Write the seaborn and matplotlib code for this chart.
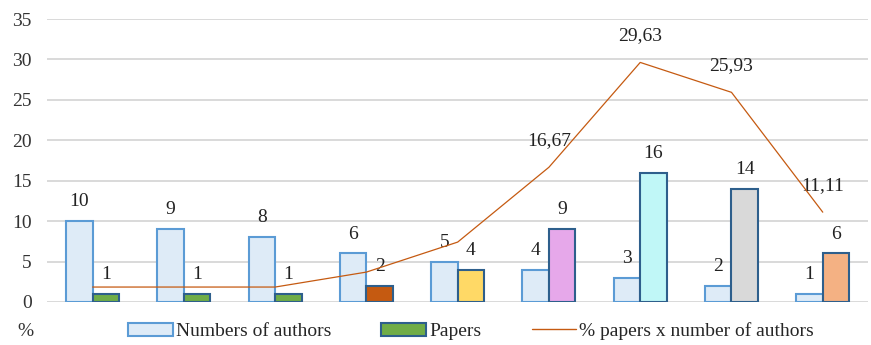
import matplotlib
matplotlib.use("Agg")
import matplotlib.pyplot as plt
import seaborn as sns
import pandas as pd
import numpy as np
from matplotlib.patches import Patch
from matplotlib.lines import Line2D

# Number of authors per paper and how many papers have that many authors
authors = [10, 9, 8, 6, 5, 4, 3, 2, 1]
papers = [1, 1, 1, 2, 4, 9, 16, 14, 6]
pct_papers = [1.85, 1.85, 1.85, 3.70, 7.41, 16.67, 29.63, 25.93, 11.11]
pct_labeled = [False, False, False, False, False, True, True, True, True]

paper_colors = ["#70AD47", "#70AD47", "#70AD47", "#C55A11", "#FFD966",
                "#E6A8EA", "#C0F7F7", "#D9D9D9", "#F4B183"]

FS = 14

sns.set_theme(style="white")
plt.rcParams["font.family"] = ["Liberation Serif", "DejaVu Serif"]

groups = [str(i) for i in range(len(authors))]
df = pd.DataFrame({
    "group": groups * 2,
    "value": authors + papers,
    "series": ["Numbers of authors"] * len(authors) + ["Papers"] * len(papers),
})

fig = plt.figure(figsize=(8.71, 3.45), dpi=100)
ax = fig.add_axes([47 / 871, 1 - 302 / 345, 1 - 47 / 871 - 0.003, (302 - 19) / 345])

sns.barplot(data=df, x="group", y="value", hue="series", order=groups,
            hue_order=["Numbers of authors", "Papers"], width=0.58,
            dodge=True, ax=ax, legend=False, zorder=3)

n = len(authors)
bars = ax.patches
for p in bars[:n]:
    p.set_facecolor("#DEEBF7")
    p.set_edgecolor("#5B9BD5")
    p.set_linewidth(1.5)
for i, p in enumerate(bars[n:2 * n]):
    p.set_facecolor(paper_colors[i])
    p.set_edgecolor("#2E5F8C")
    p.set_linewidth(1.5)

# bar value labels
for p, v in zip(bars[:2 * n], authors + papers):
    ax.annotate(str(v), (p.get_x() + p.get_width() / 2, p.get_height()),
                xytext=(0, 14), textcoords="offset points",
                ha="center", va="center", fontsize=FS, color="#222222")

xs = np.arange(n)
sns.lineplot(x=xs, y=pct_papers, ax=ax, color="#C55A11", linewidth=0.9,
             zorder=4, legend=False)
for x, v, show in zip(xs, pct_papers, pct_labeled):
    if show:
        ax.annotate(f"{v:.2f}".replace(".", ","), (x, v), xytext=(0, 19),
                    textcoords="offset points", ha="center", va="center",
                    fontsize=FS, color="#222222")

ax.set_ylim(0, 35)
ax.set_xlim(-0.5, n - 0.5)
ax.set_yticks(range(0, 36, 5))
ax.tick_params(axis="y", labelsize=FS, colors="#333333", length=0, pad=11)
ax.set_xticks([])
ax.set_xlabel("")
ax.set_ylabel("")
ax.grid(axis="y", color="#D9D9D9", linewidth=1.4, zorder=0)
ax.set_axisbelow(True)
for s in ax.spines.values():
    s.set_visible(False)

handles = [
    Patch(facecolor="#DEEBF7", edgecolor="#5B9BD5", linewidth=1.5),
    Patch(facecolor="#70AD47", edgecolor="#2E5F8C", linewidth=1.5),
    Line2D([0], [0], color="#C55A11", linewidth=1.0),
]
labels = ["Numbers of authors", "Papers", "% papers x number of authors"]
fig.legend(handles, labels, loc="center", bbox_to_anchor=(471 / 871, 1 - 331 / 345),
           ncol=3, frameon=False, fontsize=FS, handlelength=2.3,
           handleheight=0.65, handletextpad=0.15, columnspacing=2.6,
           borderpad=0)

fig.text(25 / 871, 1 - 332 / 345, "%", ha="center", va="center",
         fontsize=FS, color="#333333")

fig.savefig("out.png", dpi=100)
